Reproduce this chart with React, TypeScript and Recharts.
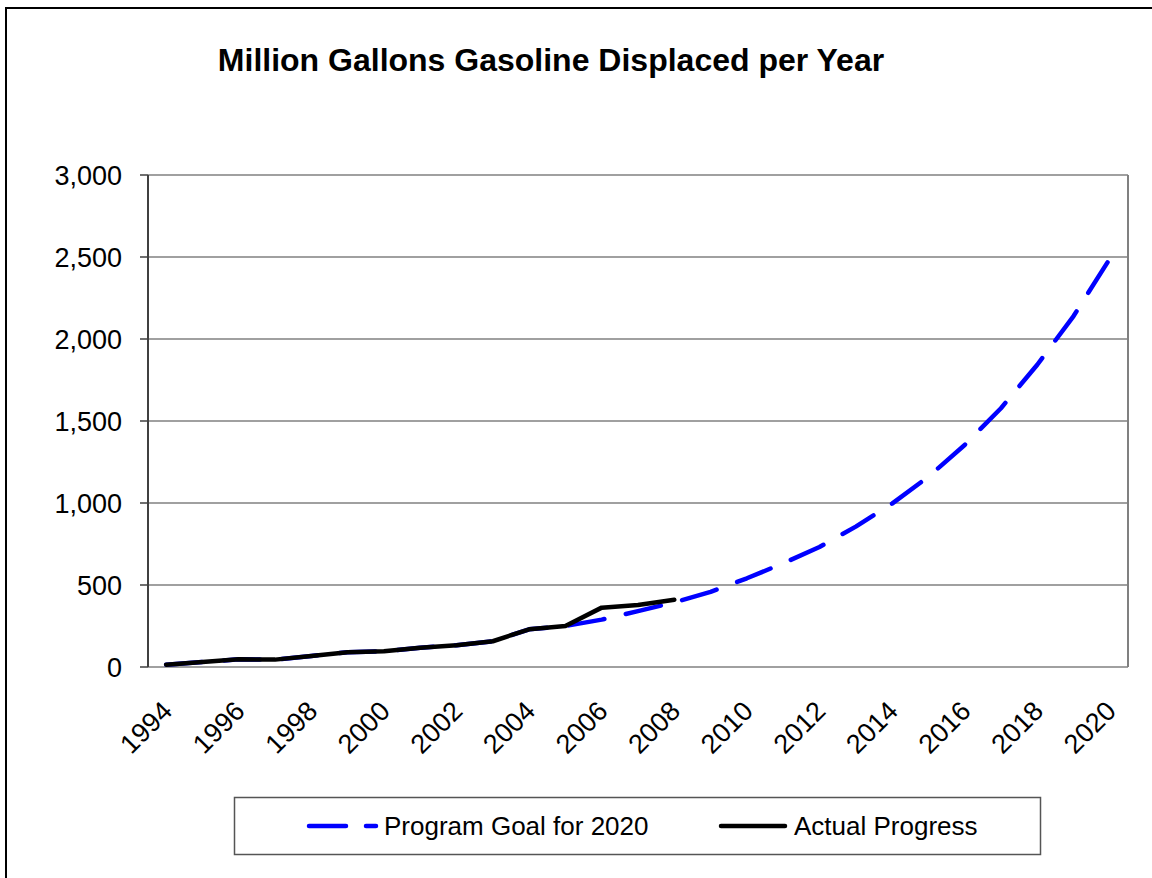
import { ComposedChart, Line, XAxis, YAxis, CartesianGrid, ReferenceLine } from 'recharts';

// Million gallons displaced per year, 1994 through the 2020 target
const years = [
  1994, 1995, 1996, 1997, 1998, 1999, 2000, 2001, 2002, 2003, 2004, 2005, 2006, 2007,
  2008, 2009, 2010, 2011, 2012, 2013, 2014, 2015, 2016, 2017, 2018, 2019, 2020,
];
const goal = [
  14, 30, 47, 45, 67, 90, 96, 118, 133, 157, 230, 250, 289, 341,
  394, 458, 541, 632, 732, 856, 996, 1160, 1354, 1578, 1843, 2140, 2490,
];
const actual = [14, 30, 47, 45, 67, 90, 96, 118, 133, 157, 230, 250, 362, 378, 410];
const yTicks = [0, 500, 1000, 1500, 2000, 2500, 3000];

const goalName = 'Program Goal for 2020';
const actualName = 'Actual Progress';

const FONT = '"Liberation Sans", Arial, sans-serif';

const data = years.map((year, i) => ({
  i,
  year,
  goal: goal[i],
  actual: i < actual.length ? actual[i] : null,
}));

// tick marks sit between categories, labels on every other year
const boundaries = years.map((_, i) => i - 0.5).concat(years.length - 0.5);
const labelTicks = years.map((_, i) => i).filter((i) => i % 2 === 0);

const YearTick = ({ x, y, payload }: any) => {
  const ty = y + 39;
  return (
    <text
      x={x + 1}
      y={ty}
      transform={`rotate(-45, ${x + 1}, ${ty})`}
      textAnchor="end"
      dy="0.35em"
      fontSize={27}
      fontFamily={FONT}
      fill="#000"
    >
      {years[payload.value]}
    </text>
  );
};

export default function App() {
  return (
    <div style={{ position: 'absolute', left: 0, top: 0, width: 1152, height: 878, overflow: 'hidden', background: '#fff' }}>
      <div
        style={{
          position: 'absolute',
          left: 5,
          top: 7,
          width: 1300,
          height: 1000,
          borderLeft: '2px solid #000',
          borderTop: '2px solid #000',
        }}
      />
      <div style={{ position: 'absolute', left: 0, top: 0 }}>
        <ComposedChart
          width={1152}
          height={878}
          data={data}
          margin={{ top: 175, right: 24, bottom: 151, left: 48 }}
        >
          <CartesianGrid xAxisId="years" vertical={false} stroke="#808080" strokeWidth={1.5} />
          <XAxis
            xAxisId="bounds"
            type="number"
            dataKey="i"
            domain={[-0.5, years.length - 0.5]}
            ticks={boundaries}
            interval={0}
            height={0}
            tick={false}
            tickSize={8}
            axisLine={{ stroke: '#808080', strokeWidth: 2 }}
            tickLine={{ stroke: '#333', strokeWidth: 1.5 }}
          />
          <XAxis
            xAxisId="years"
            type="number"
            dataKey="i"
            domain={[-0.5, years.length - 0.5]}
            ticks={labelTicks}
            interval={0}
            height={60}
            tickSize={0}
            tickMargin={0}
            axisLine={false}
            tickLine={false}
            tick={<YearTick />}
          />
          <YAxis
            type="number"
            domain={[0, 3000]}
            ticks={yTicks}
            interval={0}
            width={100}
            tickSize={8}
            tickMargin={18}
            axisLine={{ stroke: '#404040', strokeWidth: 2 }}
            tickLine={{ stroke: '#404040', strokeWidth: 1.5 }}
            tick={{ fontSize: 27, fontFamily: FONT, fill: '#000' }}
            tickFormatter={(v: number) => v.toLocaleString('en-US')}
          />
          <ReferenceLine xAxisId="years" x={years.length - 0.5} stroke="#808080" strokeWidth={2} />
          <Line
            xAxisId="years"
            type="linear"
            dataKey="goal"
            name={goalName}
            stroke="#0000ff"
            strokeWidth={4.5}
            strokeDasharray="36 22"
            strokeLinecap="round"
            strokeLinejoin="round"
            dot={false}
            activeDot={false}
            isAnimationActive={false}
          />
          <Line
            xAxisId="years"
            type="linear"
            dataKey="actual"
            name={actualName}
            stroke="#000000"
            strokeWidth={4.5}
            strokeLinecap="round"
            strokeLinejoin="round"
            dot={false}
            activeDot={false}
            connectNulls={false}
            isAnimationActive={false}
          />
        </ComposedChart>
      </div>
      <svg
        width={1152}
        height={878}
        style={{ position: 'absolute', left: 0, top: 0, pointerEvents: 'none' }}
      >
        <text x={551} y={71} textAnchor="middle" fontSize={32} fontWeight="bold" fontFamily={FONT} fill="#000">
          Million Gallons Gasoline Displaced per Year
        </text>
        <rect x={234.5} y={797.5} width={806} height={57} fill="none" stroke="#555" strokeWidth={1.5} />
        <line x1={309} y1={826} x2={376} y2={826} stroke="#0000ff" strokeWidth={4.5} strokeDasharray="37 20" strokeLinecap="round" />
        <text x={384} y={835} fontSize={26} fontFamily={FONT} fill="#000">{goalName}</text>
        <line x1={721} y1={826} x2={785} y2={826} stroke="#000" strokeWidth={4.5} strokeLinecap="round" />
        <text x={794} y={835} fontSize={26} fontFamily={FONT} fill="#000">{actualName}</text>
      </svg>
    </div>
  );
}
